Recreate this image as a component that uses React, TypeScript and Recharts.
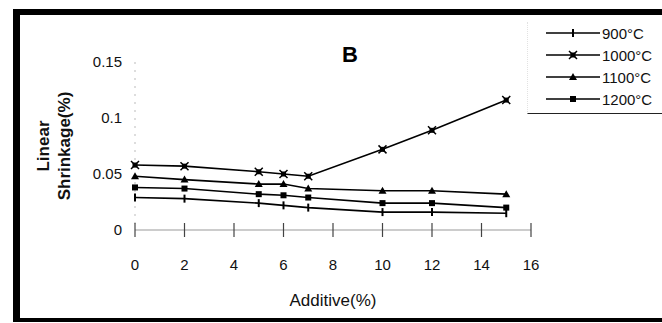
import React from "react";
import { LineChart, Line, XAxis, YAxis } from "recharts";

const additive = [0, 2, 5, 6, 7, 10, 12, 15];
const s900 = [0.029, 0.028, 0.024, 0.022, 0.02, 0.016, 0.016, 0.015];
const s1000 = [0.058, 0.057, 0.052, 0.05, 0.048, 0.072, 0.089, 0.116];
const s1100 = [0.048, 0.045, 0.041, 0.041, 0.037, 0.035, 0.035, 0.032];
const s1200 = [0.038, 0.037, 0.032, 0.031, 0.029, 0.024, 0.024, 0.02];

const xTicks = [0, 2, 4, 6, 8, 10, 12, 14, 16];
const yTicks = [0, 0.05, 0.1, 0.15];

const seriesNames = ["900°C", "1000°C", "1100°C", "1200°C"];
const seriesKeys = ["t900", "t1000", "t1100", "t1200"];
const markers = ["plus", "xsquare", "triangle", "square"];

const rows = additive.map((a, i) => ({
  a,
  t900: s900[i],
  t1000: s1000[i],
  t1100: s1100[i],
  t1200: s1200[i],
}));

const FONT = "'Liberation Sans', Arial, sans-serif";

function Marker({ kind, cx, cy }: { kind: string; cx: number; cy: number }) {
  if (kind === "plus") {
    return <line x1={cx} y1={cy - 4} x2={cx} y2={cy + 4} stroke="#000" strokeWidth={2} />;
  }
  if (kind === "xsquare") {
    return (
      <g>
        <rect x={cx - 2.5} y={cy - 2.5} width={5} height={5} fill="#000" />
        <path d={`M${cx - 4},${cy - 4}L${cx + 4},${cy + 4}M${cx + 4},${cy - 4}L${cx - 4},${cy + 4}`} stroke="#000" strokeWidth={1.5} />
      </g>
    );
  }
  if (kind === "triangle") {
    return <path d={`M${cx},${cy - 4}L${cx + 4},${cy + 3}L${cx - 4},${cy + 3}Z`} fill="#000" />;
  }
  return <rect x={cx - 3} y={cy - 3} width={6} height={6} fill="#000" />;
}

const makeDot = (kind: string) => (props: any) => (
  <Marker key={`${kind}-${props.index}`} kind={kind} cx={props.cx} cy={props.cy} />
);

function XTick(props: any) {
  const { x, y, payload } = props;
  return (
    <g>
      <line x1={x} y1={y - 7} x2={x} y2={y + 7} stroke="#444" strokeWidth={1.2} />
      <text x={x} y={y + 40} textAnchor="middle" fontSize={15} fill="#111" fontFamily={FONT}>
        {payload.value}
      </text>
    </g>
  );
}

function YLabel(props: any) {
  const { viewBox } = props;
  const cy = viewBox.y + viewBox.height / 2;
  return (
    <g fontFamily={FONT} fontWeight="bold" fontSize={17} fill="#111">
      <text x={43} y={cy} textAnchor="middle" dominantBaseline="central" transform={`rotate(-90, 43, ${cy})`}>
        Linear
      </text>
      <text x={64} y={cy} textAnchor="middle" dominantBaseline="central" transform={`rotate(-90, 64, ${cy})`}>
        Shrinkage(%)
      </text>
    </g>
  );
}

export default function App() {
  return (
    <div style={{ position: "absolute", left: 0, top: 0, width: 662, height: 323, background: "#fff", fontFamily: FONT, overflow: "hidden" }}>
      <div
        style={{
          position: "absolute",
          left: 13,
          top: 9,
          width: 670,
          height: 313,
          boxSizing: "border-box",
          borderLeft: "7px solid #000",
          borderTop: "6px solid #000",
          borderBottom: "4px solid #000",
        }}
      />
      <LineChart width={662} height={323} data={rows} margin={{ top: 62, right: 131, bottom: 0, left: 0 }}>
        <XAxis
          dataKey="a"
          type="number"
          domain={[0, 16]}
          ticks={xTicks}
          height={93}
          tickSize={0}
          tickMargin={0}
          tickLine={false}
          tick={<XTick />}
          axisLine={{ stroke: "#999", strokeWidth: 1.2 }}
          label={{ value: "Additive(%)", position: "insideBottom", offset: 17, fill: "#111", fontSize: 17, fontFamily: FONT }}
        />
        <YAxis
          type="number"
          domain={[0, 0.15]}
          ticks={yTicks}
          width={135}
          tickLine={false}
          tickSize={0}
          tickMargin={13}
          tick={{ fill: "#111", fontSize: 15, fontFamily: FONT }}
          axisLine={{ stroke: "#bbb", strokeDasharray: "2 6" }}
          label={<YLabel />}
        />
        {seriesKeys.map((k, i) => (
          <Line
            key={k}
            dataKey={k}
            name={seriesNames[i]}
            stroke="#000"
            strokeWidth={1.6}
            dot={makeDot(markers[i])}
            activeDot={false}
            isAnimationActive={false}
          />
        ))}
      </LineChart>
      <div style={{ position: "absolute", left: 342, top: 42, fontSize: 22, fontWeight: "bold", color: "#000" }}>B</div>
      <div
        style={{
          position: "absolute",
          left: 527,
          top: 22,
          width: 140,
          height: 92,
          boxSizing: "border-box",
          borderLeft: "1px dotted #e2e2e2",
          borderBottom: "1.5px solid #222",
        }}
      >
        {seriesNames.map((n, i) => (
          <div key={n} style={{ position: "absolute", left: 16, top: 2 + i * 22, height: 18, display: "flex", alignItems: "center" }}>
            <svg width={58} height={18}>
              <line x1={2} y1={9} x2={56} y2={9} stroke="#000" strokeWidth={1.6} />
              <Marker kind={markers[i]} cx={29} cy={9} />
            </svg>
            <span style={{ fontSize: 15, color: "#111" }}>{n}</span>
          </div>
        ))}
      </div>
    </div>
  );
}
